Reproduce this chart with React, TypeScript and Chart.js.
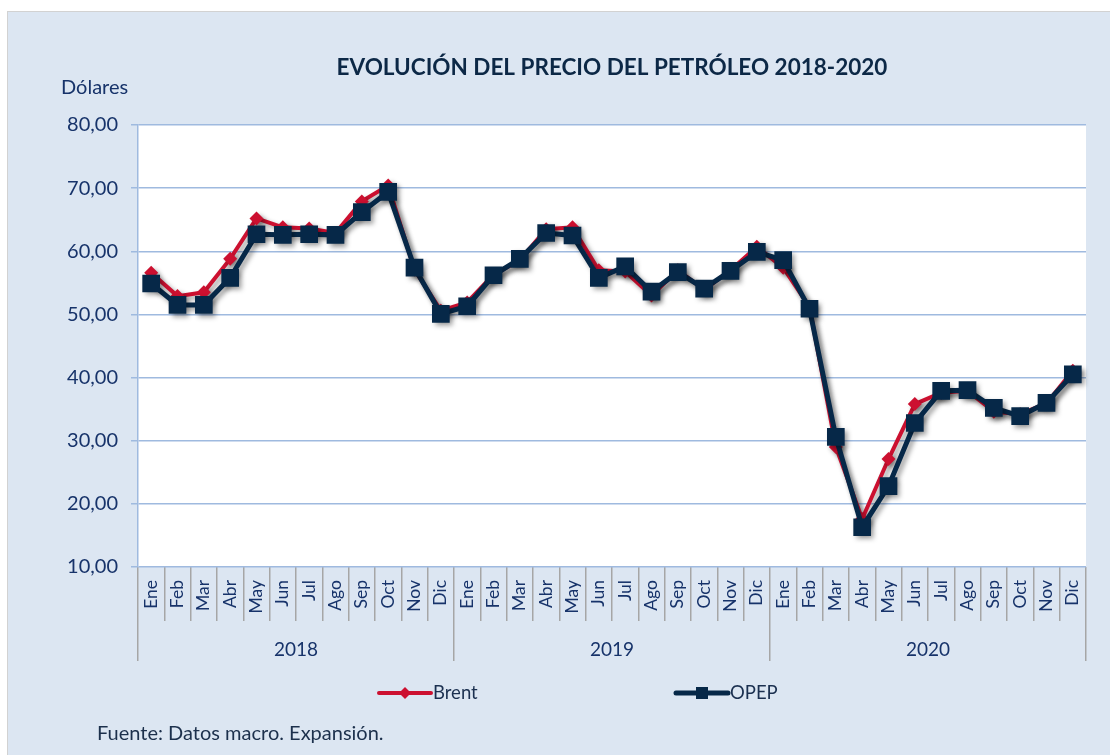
import React, { useEffect, useRef } from "react";
import { Chart, registerables } from "chart.js";

Chart.register(...registerables);

const months = ["Ene","Feb","Mar","Abr","May","Jun","Jul","Ago","Sep","Oct","Nov","Dic"];
const years = ["2018", "2019", "2020"];
const categories = years.flatMap(() => months);

const brent = [
  56.6, 52.9, 53.5, 58.8, 65.2, 63.8, 63.6, 62.9, 67.9, 70.4, 57.1, 50.6,
  51.9, 56.3, 58.6, 63.5, 63.8, 57.0, 56.8, 53.0, 57.0, 53.9, 57.0, 60.7,
  57.4, 51.2, 29.0, 17.6, 27.1, 35.8, 37.6, 37.9, 34.6, 34.2, 35.9, 41.1,
];
const opep = [
  54.9, 51.5, 51.5, 55.8, 62.7, 62.6, 62.7, 62.6, 66.2, 69.4, 57.4, 50.1,
  51.3, 56.2, 58.8, 62.9, 62.5, 55.8, 57.6, 53.6, 56.7, 54.1, 56.9, 59.9,
  58.6, 50.9, 30.6, 16.3, 22.8, 32.8, 37.9, 38.0, 35.2, 33.9, 36.0, 40.5,
];
const yTicks = [10, 20, 30, 40, 50, 60, 70, 80];

const TITLE = "EVOLUCIÓN DEL PRECIO DEL PETRÓLEO 2018-2020";
const Y_TITLE = "Dólares";
const SOURCE = "Fuente: Datos macro. Expansión.";

const RED = "#cc1030";
const NAVY = "#062848";
const TEXT = "#17336a";
const FONT = "Lato";

const W = 1103;
const H = 744;

export default function App() {
  const ref = useRef<HTMLCanvasElement | null>(null);

  useEffect(() => {
    if (!ref.current) return;

    const decor = {
      id: "decor",
      beforeDraw(chart: any) {
        const { ctx, chartArea } = chart;
        ctx.save();
        ctx.fillStyle = "#ffffff";
        ctx.fillRect(chartArea.left, chartArea.top, chartArea.right - chartArea.left, chartArea.bottom - chartArea.top);
        ctx.restore();
      },
      beforeDatasetDraw(chart: any) {
        const ctx = chart.ctx;
        ctx.save();
        ctx.shadowColor = "rgba(0,0,0,0.38)";
        ctx.shadowBlur = 5;
        ctx.shadowOffsetX = 3;
        ctx.shadowOffsetY = 3;
      },
      afterDatasetDraw(chart: any) {
        chart.ctx.restore();
      },
      afterDraw(chart: any) {
        const { ctx, chartArea } = chart;
        const cx = (chartArea.left + chartArea.right) / 2;
        ctx.save();
        ctx.textBaseline = "middle";
        // title
        ctx.fillStyle = "#0c2846";
        ctx.font = `bold 22.5px ${FONT}`;
        ctx.textAlign = "center";
        ctx.fillText(TITLE, cx, 56);
        // y title
        ctx.fillStyle = TEXT;
        ctx.font = `20px ${FONT}`;
        ctx.textAlign = "left";
        ctx.fillText(Y_TITLE, 53, 76);
        // source
        ctx.fillStyle = "#1c304c";
        ctx.font = `20px ${FONT}`;
        ctx.fillText(SOURCE, 89, 722);
        // legend
        const items = [
          { label: chart.data.datasets[0].label, color: RED, style: "diamond", x: chartArea.left + 241 },
          { label: chart.data.datasets[1].label, color: NAVY, style: "square", x: chartArea.left + 538 },
        ];
        const ly = 681;
        for (const it of items) {
          ctx.strokeStyle = it.color;
          ctx.fillStyle = it.color;
          ctx.lineWidth = it.style === "square" ? 5 : 4;
          ctx.lineCap = "round";
          ctx.beginPath();
          ctx.moveTo(it.x, ly);
          ctx.lineTo(it.x + 52, ly);
          ctx.stroke();
          const mx = it.x + 26;
          ctx.beginPath();
          if (it.style === "diamond") {
            ctx.moveTo(mx, ly - 6);
            ctx.lineTo(mx + 6, ly);
            ctx.lineTo(mx, ly + 6);
            ctx.lineTo(mx - 6, ly);
            ctx.closePath();
          } else {
            ctx.rect(mx - 6, ly - 6, 12, 12);
          }
          ctx.fill();
          ctx.fillStyle = "#1b3050";
          ctx.font = `18.5px ${FONT}`;
          ctx.textAlign = "left";
          ctx.fillText(it.label, it.x + 54, ly);
        }
        ctx.restore();
      },
    };

    const chart = new Chart(ref.current, {
      type: "line",
      data: {
        labels: categories,
        datasets: [
          {
            label: "Brent",
            data: brent,
            borderColor: RED,
            backgroundColor: RED,
            borderWidth: 4,
            pointStyle: "rectRot",
            pointRadius: 7,
            pointBorderWidth: 0,
            pointBackgroundColor: RED,
            tension: 0,
            order: 2,
          },
          {
            label: "OPEP",
            data: opep,
            borderColor: NAVY,
            backgroundColor: NAVY,
            borderWidth: 5,
            pointStyle: "rect",
            pointRadius: 12.5,
            pointBorderWidth: 0,
            pointBackgroundColor: NAVY,
            tension: 0,
            order: 1,
          },
        ],
      },
      options: {
        responsive: false,
        animation: false,
        devicePixelRatio: 1,
        layout: { padding: { top: 113, left: 0, right: 25, bottom: 95 } },
        plugins: {
          legend: { display: false },
          tooltip: { enabled: false },
          title: { display: false },
        },
        scales: {
          x: {
            type: "category",
            position: "bottom",
            offset: true,
            grid: {
              offset: true,
              drawOnChartArea: false,
              drawTicks: true,
              tickLength: 54,
              color: "#a6a6a6",
              lineWidth: 1.5,
            },
            border: { display: false },
            ticks: {
              autoSkip: false,
              minRotation: 90,
              maxRotation: 90,
              padding: -41,
              color: TEXT,
              font: { family: FONT, size: 17.5 },
            },
            afterFit: (s: any) => { s.height = 54; },
          },
          x2: {
            type: "category",
            position: "bottom",
            labels: years,
            offset: true,
            grid: {
              offset: true,
              drawOnChartArea: false,
              drawTicks: true,
              tickLength: 40,
              color: "#a6a6a6",
              lineWidth: 1.5,
            },
            border: { display: false },
            ticks: {
              autoSkip: false,
              maxRotation: 0,
              padding: -23,
              color: TEXT,
              font: { family: FONT, size: 19 },
            },
            afterFit: (s: any) => { s.height = 40; },
          },
          y: {
            min: 10,
            max: 80,
            afterBuildTicks: (s: any) => { s.ticks = yTicks.map((v) => ({ value: v })); },
            grid: { color: "#9fbadf", tickLength: 7, lineWidth: 1.5 },
            border: { display: true, color: "#9fbadf", width: 1.5 },
            ticks: {
              padding: 13,
              color: TEXT,
              font: { family: FONT, size: 20 },
              callback: (v: any) => Number(v).toFixed(2).replace(".", ","),
            },
            afterFit: (s: any) => { s.width = 130; },
          },
        },
      },
      plugins: [decor],
    });
    return () => chart.destroy();
  }, []);

  return (
    <div
      style={{
        position: "fixed",
        left: 7,
        top: 11,
        width: W,
        height: H,
        background: "#dce6f2",
        borderTop: "1px solid #d2d2d2",
        borderLeft: "1px solid #d2d2d2",
        boxSizing: "border-box",
        overflow: "hidden",
      }}
    >
      <canvas ref={ref} width={W} height={H} style={{ display: "block", width: W, height: H }} />
    </div>
  );
}
